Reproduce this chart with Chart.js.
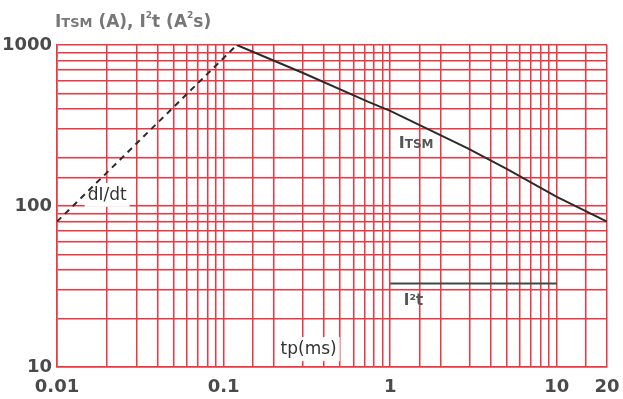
<!DOCTYPE html>
<html>
<head>
<meta charset="utf-8">
<script src="https://cdn.jsdelivr.net/npm/chart.js@4"></script>
<style>
  html, body { margin: 0; padding: 0; background: #fff; }
  #wrap { width: 623px; height: 399px; }
</style>
</head>
<body>
<div id="wrap"><canvas id="surgeChart" width="623" height="399"></canvas></div>
<script>
// dI/dt ramp (dashed)
const dIdtX = [0.01, 0.12];
const dIdtY = [80, 1000];
// ITSM curve
const itsmX = [0.12, 0.3, 0.74, 1, 2.9, 5, 10, 20];
const itsmY = [1000, 670, 443, 390, 229, 170, 114, 80];
// I2t level
const i2tX = [1, 10];
const i2tY = [33, 33];

const xTicks = [0.01, 0.1, 1, 10, 20];
const xTickText = ['0.01', '0.1', '1', '10', '20'];
const yTicks = [10, 100, 1000];
const yTickText = ['10', '100', '1000'];

const gridRed = 'rgb(240,55,65)';
const inkColor = '#2b2b2b';

function toPoints(xs, ys) {
    return xs.map((x, i) => ({ x: x, y: ys[i] }));
}

function findTick(list, value) {
    return list.findIndex(v => Math.abs(v - value) / v < 1e-6);
}

// in-plot labels, anchored in data units
const notes = [
    { parts: [['dI/dt', '17px "DejaVu Sans"']], x: 0.02, y: 119, box: true },
    { parts: [['I', 'bold 16px "DejaVu Sans"'], ['TSM', 'bold 12px "DejaVu Sans"']], x: 1.43, y: 250, color: '#555' },
    { parts: [['I²t', 'bold 15px "DejaVu Sans"']], x: 1.38, y: 26.4, color: '#555' },
    { parts: [['tp(ms)', '17px "DejaVu Sans"']], x: 0.324, y: 13.1, box: true }
];

function drawParts(ctx, parts, cx, cy, color) {
    let total = 0;
    parts.forEach(p => { ctx.font = p[1]; total += ctx.measureText(p[0]).width; });
    let x = cx - total / 2;
    ctx.fillStyle = color;
    ctx.textBaseline = 'alphabetic';
    ctx.textAlign = 'left';
    parts.forEach(p => {
        ctx.font = p[1];
        ctx.fillText(p[0], x, cy);
        x += ctx.measureText(p[0]).width;
    });
    return total;
}

const notesPlugin = {
    id: 'notes',
    beforeDatasetsDraw(chart) {
        const ctx = chart.ctx;
        const xs = chart.scales.x, ys = chart.scales.y;
        ctx.save();
        notes.forEach(n => {
            const cx = xs.getPixelForValue(n.x);
            const cy = ys.getPixelForValue(n.y);
            let w = 0;
            n.parts.forEach(p => { ctx.font = p[1]; w += ctx.measureText(p[0]).width; });
            if (n.box) {
                ctx.fillStyle = '#fff';
                ctx.fillRect(cx - w / 2 - 3, cy - 11, w + 6, 24);
            }
            drawParts(ctx, n.parts, cx, cy + 6, n.color || '#333');
        });
        ctx.restore();
    },
    afterDraw(chart) {
        const ctx = chart.ctx;
        ctx.save();
        const title = [
            ['I', 'bold 17px "DejaVu Sans"'],
            ['TSM', 'bold 13px "DejaVu Sans"'],
            [' (A), I', 'bold 17px "DejaVu Sans"'],
            ['2', 'bold 9px "DejaVu Sans"'],
            ['t (A', 'bold 17px "DejaVu Sans"'],
            ['2', 'bold 9px "DejaVu Sans"'],
            ['s)', 'bold 17px "DejaVu Sans"']
        ];
        let x = 55;
        ctx.fillStyle = '#777';
        ctx.textBaseline = 'alphabetic';
        title.forEach(p => {
            ctx.font = p[1];
            const sup = p[0] === '2';
            ctx.fillText(p[0], x, sup ? 18 : 27);
            x += ctx.measureText(p[0]).width;
        });
        ctx.restore();
    }
};

const ctx = document.getElementById('surgeChart').getContext('2d');

new Chart(ctx, {
    type: 'scatter',
    data: {
        datasets: [
            {
                label: 'dI/dt',
                data: toPoints(dIdtX, dIdtY),
                showLine: true,
                borderColor: inkColor,
                borderWidth: 2,
                borderDash: [6, 5],
                pointRadius: 0
            },
            {
                label: 'ITSM',
                data: toPoints(itsmX, itsmY),
                showLine: true,
                borderColor: inkColor,
                borderWidth: 2,
                pointRadius: 0
            },
            {
                label: 'I2t',
                data: toPoints(i2tX, i2tY),
                showLine: true,
                borderColor: '#3d4a44',
                borderWidth: 2,
                pointRadius: 0
            }
        ]
    },
    options: {
        responsive: false,
        animation: false,
        layout: {
            padding: { left: 0, right: 16, top: 45, bottom: 0 }
        },
        plugins: {
            legend: { display: false },
            tooltip: { enabled: false },
            title: { display: false }
        },
        scales: {
            x: {
                type: 'logarithmic',
                min: 0.01,
                max: 20,
                afterFit: (scale) => {
                    scale.height = 32;
                    scale.paddingLeft = 0;
                    scale.paddingRight = 0;
                },
                grid: {
                    color: gridRed,
                    lineWidth: 1.5,
                    drawTicks: false
                },
                border: { color: gridRed, width: 1.5 },
                ticks: {
                    autoSkip: false,
                    maxRotation: 0,
                    padding: 10,
                    color: '#4a4a4a',
                    font: { family: '"DejaVu Sans"', size: 18, weight: 'bold' },
                    callback: (value) => {
                        const i = findTick(xTicks, value);
                        return i >= 0 ? xTickText[i] : '';
                    }
                }
            },
            y: {
                type: 'logarithmic',
                min: 10,
                max: 1000,
                afterFit: (scale) => { scale.width = 57; },
                grid: {
                    color: gridRed,
                    lineWidth: 1.5,
                    drawTicks: false
                },
                border: { color: gridRed, width: 1.5 },
                ticks: {
                    autoSkip: false,
                    padding: 5,
                    color: '#4a4a4a',
                    font: { family: '"DejaVu Sans"', size: 18, weight: 'bold' },
                    callback: (value) => {
                        const i = findTick(yTicks, value);
                        return i >= 0 ? yTickText[i] : '';
                    }
                }
            }
        }
    },
    plugins: [notesPlugin]
});
</script>
</body>
</html>
